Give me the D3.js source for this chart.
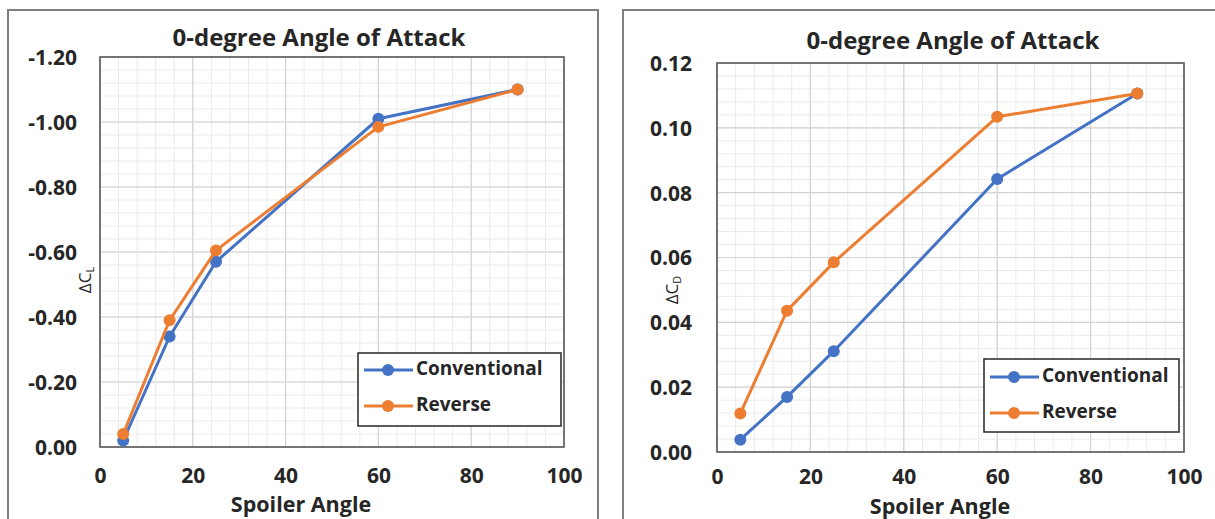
<!DOCTYPE html>
<html>
<head>
<meta charset="utf-8">
<script src="https://cdn.jsdelivr.net/npm/d3@7"></script>
<style>
  html, body { margin: 0; padding: 0; background: #fff; }
  svg { display: block; }
  text { font-family: "Open Sans", Lato, sans-serif; fill: #262626; }
</style>
</head>
<body>
<svg id="fig" width="1215" height="519"></svg>
<script>
// Spoiler deflection angles (deg)
const spoilerAngles = [5, 15, 25, 60, 90];

// Lift increment, 0-degree angle of attack
const liftConventional = [-0.02, -0.34, -0.57, -1.01, -1.10];
const liftReverse      = [-0.04, -0.39, -0.605, -0.985, -1.10];

// Drag increment, 0-degree angle of attack
const dragConventional = [0.0038, 0.0170, 0.0311, 0.0842, 0.1106];
const dragReverse      = [0.0119, 0.0436, 0.0585, 0.1034, 0.1106];

// Axis ticks
const xTicks = [0, 20, 40, 60, 80, 100];
const liftTicks = [0, -0.2, -0.4, -0.6, -0.8, -1.0, -1.2];
const dragTicks = [0, 0.02, 0.04, 0.06, 0.08, 0.10, 0.12];

const seriesNames = ["Conventional", "Reverse"];
const seriesColors = ["#4472C4", "#ED7D31"];
const chartTitle = "0-degree Angle of Attack";
const xTitle = "Spoiler Angle";

const FONT = "'Open Sans', Lato, sans-serif";
const svg = d3.select("#fig");

function drawPanel(opt) {
  const g = svg.append("g");

  // outer chart frame
  g.append("rect")
    .attr("x", opt.frame[0]).attr("y", opt.frame[1])
    .attr("width", opt.frame[2]).attr("height", opt.frame[3])
    .attr("fill", "#fff").attr("stroke", "#7f7f7f").attr("stroke-width", 2);

  const x = d3.scaleLinear().domain([0, 100]).range([opt.plot.x0, opt.plot.x1]);
  const y = d3.scaleLinear().domain(opt.yDomain).range([opt.plot.y1, opt.plot.y0]);

  // minor grid: five divisions per major step
  const nMinorY = 5 * (opt.yTicks.length - 1);
  const xMinor = d3.range(0, 26).map(i => i * 4);
  const yMinor = d3.range(0, nMinorY + 1).map(i => opt.yDomain[1] * i / nMinorY);
  g.append("g").selectAll("line").data(xMinor).join("line")
    .attr("x1", d => x(d)).attr("x2", d => x(d))
    .attr("y1", opt.plot.y0).attr("y2", opt.plot.y1)
    .attr("stroke", "#ebebeb").attr("stroke-width", 1);
  g.append("g").selectAll("line").data(yMinor).join("line")
    .attr("y1", d => y(d)).attr("y2", d => y(d))
    .attr("x1", opt.plot.x0).attr("x2", opt.plot.x1)
    .attr("stroke", "#ebebeb").attr("stroke-width", 1);

  // major grid
  g.append("g").selectAll("line").data(xTicks).join("line")
    .attr("x1", d => x(d)).attr("x2", d => x(d))
    .attr("y1", opt.plot.y0).attr("y2", opt.plot.y1)
    .attr("stroke", "#d4d4d4").attr("stroke-width", 1.2);
  g.append("g").selectAll("line").data(opt.yTicks).join("line")
    .attr("y1", d => y(d)).attr("y2", d => y(d))
    .attr("x1", opt.plot.x0).attr("x2", opt.plot.x1)
    .attr("stroke", "#d4d4d4").attr("stroke-width", 1.2);

  // plot border
  g.append("rect")
    .attr("x", opt.plot.x0).attr("y", opt.plot.y0)
    .attr("width", opt.plot.x1 - opt.plot.x0).attr("height", opt.plot.y1 - opt.plot.y0)
    .attr("fill", "none").attr("stroke", "#595959").attr("stroke-width", 1.6);

  // axes (labels only, no tick marks)
  const yAxis = d3.axisLeft(y).tickValues(opt.yTicks).tickSize(0).tickPadding(opt.yPad)
    .tickFormat(d => (Math.abs(d) < 1e-9 ? 0 : d).toFixed(2));
  const ya = g.append("g").attr("transform", `translate(${opt.plot.x0},0)`).call(yAxis);
  ya.select(".domain").remove();
  ya.selectAll("text").attr("font-family", FONT).attr("font-weight", 700)
    .attr("font-size", 21).attr("fill", "#262626").attr("dy", "0.35em");

  const xAxis = d3.axisBottom(x).tickValues(xTicks).tickSize(0).tickPadding(opt.xPad);
  const xa = g.append("g").attr("transform", `translate(0,${opt.plot.y1})`).call(xAxis);
  xa.select(".domain").remove();
  xa.selectAll("text").attr("font-family", FONT).attr("font-weight", 700)
    .attr("font-size", 21).attr("fill", "#262626").attr("dy", "0.35em");

  // titles
  g.append("text").attr("x", opt.titleX).attr("y", opt.titleY)
    .attr("text-anchor", "middle").attr("font-weight", 700).attr("font-size", 24)
    .text(chartTitle);
  g.append("text").attr("x", opt.xTitleX).attr("y", opt.xTitleY)
    .attr("text-anchor", "middle").attr("font-weight", 700).attr("font-size", 21.5)
    .attr("dominant-baseline", "middle")
    .text(xTitle);

  const yl = g.append("text")
    .attr("transform", `translate(${opt.yTitleX},${opt.yTitleY}) rotate(-90)`)
    .attr("text-anchor", "middle").attr("dominant-baseline", "middle")
    .attr("font-size", 17).attr("font-weight", 400);
  yl.append("tspan").text("\u0394C");
  yl.append("tspan").attr("font-size", 11).attr("dy", 5).text(opt.sub);

  // series
  const line = d3.line().x(d => x(d[0])).y(d => y(d[1]));
  opt.series.forEach((vals, i) => {
    const pts = spoilerAngles.map((a, k) => [a, vals[k]]);
    g.append("path").datum(pts).attr("d", line)
      .attr("fill", "none").attr("stroke", seriesColors[i])
      .attr("stroke-width", 3).attr("stroke-linejoin", "round");
    g.append("g").selectAll("circle").data(pts).join("circle")
      .attr("cx", d => x(d[0])).attr("cy", d => y(d[1])).attr("r", 6)
      .attr("fill", seriesColors[i]);
  });

  // legend
  const L = opt.legend;
  g.append("rect").attr("x", L.x).attr("y", L.y).attr("width", L.w).attr("height", L.h)
    .attr("fill", "#fff").attr("stroke", "#262626").attr("stroke-width", 1.5);
  seriesNames.forEach((name, i) => {
    const cy = L.y + L.rows[i];
    g.append("line").attr("x1", L.x + 6).attr("x2", L.x + 55)
      .attr("y1", cy).attr("y2", cy)
      .attr("stroke", seriesColors[i]).attr("stroke-width", 3);
    g.append("circle").attr("cx", L.x + 30).attr("cy", cy).attr("r", 6).attr("fill", seriesColors[i]);
    g.append("text").attr("x", L.x + 58).attr("y", cy).attr("dominant-baseline", "middle")
      .attr("font-weight", 700).attr("font-size", 19).text(name);
  });
}

drawPanel({
  frame: [8, 10, 590, 530],
  plot: { x0: 100, x1: 564, y0: 57, y1: 447 },
  yDomain: [0, -1.2],
  yTicks: liftTicks,
  yPad: 23,
  xPad: 29,
  titleX: 319, titleY: 46,
  xTitleX: 301, xTitleY: 506,
  yTitleX: 86, yTitleY: 280,
  sub: "L",
  series: [liftConventional, liftReverse],
  legend: { x: 358, y: 353, w: 203, h: 73, rows: [17, 53] }
});

drawPanel({
  frame: [623, 10, 620, 530],
  plot: { x0: 717, x1: 1184, y0: 63, y1: 452 },
  yDomain: [0, 0.12],
  yTicks: dragTicks,
  yPad: 25,
  xPad: 25,
  titleX: 953, titleY: 49,
  xTitleX: 940, xTitleY: 508,
  yTitleX: 673, yTitleY: 290,
  sub: "D",
  series: [dragConventional, dragReverse],
  legend: { x: 984, y: 359, w: 195, h: 73, rows: [18, 54] }
});
</script>
</body>
</html>
